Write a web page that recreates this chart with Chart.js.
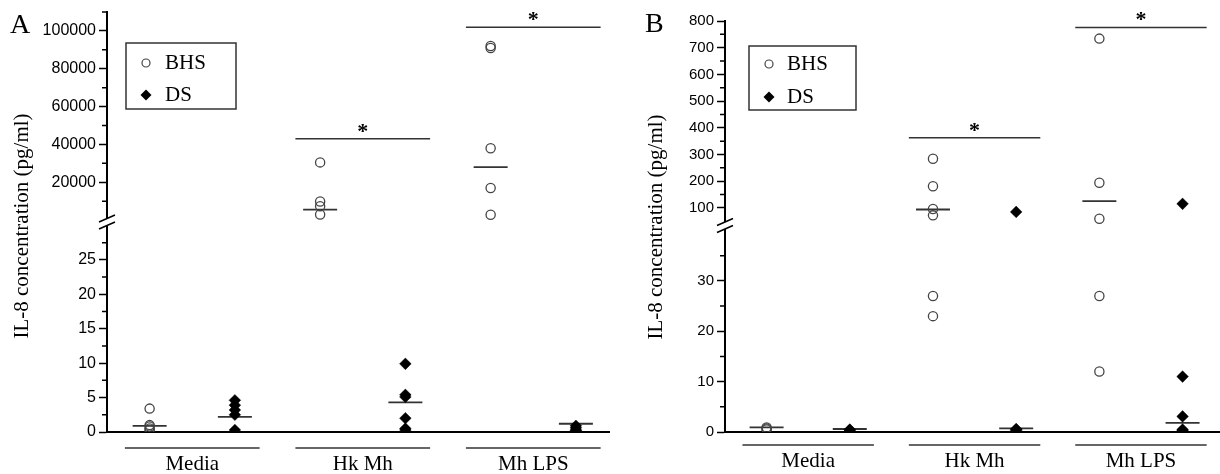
<!DOCTYPE html>
<html>
<head>
<meta charset="utf-8">
<script src="https://cdn.jsdelivr.net/npm/chart.js@4.4.1/dist/chart.umd.min.js"></script>
<style>
  html, body { margin: 0; padding: 0; background: #fff; overflow: hidden; }
  #wrap { position: relative; width: 1220px; height: 474px; }
  .panel { position: absolute; top: 0; width: 610px; height: 474px; }
</style>
</head>
<body>
<div id="wrap">
  <div class="panel" style="left:0"><canvas id="chartA"></canvas></div>
  <div class="panel" style="left:610px"><canvas id="chartB"></canvas></div>
</div>
<script>
const groups = ['Media', 'Hk Mh', 'Mh LPS'];
const seriesNames = ['BHS', 'DS'];
const yTitle = 'IL-8 concentration (pg/ml)';

// Panel A - one inner array per group
const aBHS = [[3.4, 1.0, 0.8, 0.5, 0.3], [30500, 9800, 7300, 3000], [92000, 91000, 38000, 17000, 2800]];
const aDS = [[4.6, 3.9, 3.2, 2.5, 0.3], [9.9, 5.4, 5.1, 2.0, 0.5, 0.3], [0.9, 0.6, 0.3, 0.2]];
const aBHSMedian = [0.9, 5500, 28000];
const aDSMedian = [2.2, 4.3, 1.2];
const aSignif = [null, 43000, 102000];
const aLowTicks = [0, 5, 10, 15, 20, 25];
const aHighTicks = [20000, 40000, 60000, 80000, 100000];

// Panel B
const bBHS = [[0.9, 0.7, 0.5], [284, 181, 96, 72, 27, 23], [734, 194, 59, 27, 12]];
const bDS = [[0.5, 0.4, 0.2], [85, 0.6, 0.5, 0.3], [115, 11, 3.1, 0.5, 0.3]];
const bBHSMedian = [0.9, 94, 125];
const bDSMedian = [0.6, 0.7, 1.8];
const bSignif = [null, 363, 776];
const bLowTicks = [0, 10, 20, 30];
const bHighTicks = [100, 200, 300, 400, 500, 600, 700, 800];

const SERIF = "'Liberation Serif', 'Times New Roman', serif";
const SANS = "'Liberation Sans', Arial, sans-serif";

// values above the cut go on the upper (broken) axis
function pts(vals, s, cut, high) {
  const out = [];
  vals.forEach((arr, g) => arr.forEach(v => {
    if ((v > cut) === high) out.push({ x: g * 2 + 1 + s, y: v });
  }));
  return out;
}

function medPts(bhsMed, dsMed, cut, high) {
  const out = [];
  [bhsMed, dsMed].forEach((arr, s) => arr.forEach((v, g) => {
    if ((v > cut) === high) out.push({ x: g * 2 + 1 + s, y: v });
  }));
  return out;
}

function noPad(s) {
  s.paddingTop = 0; s.paddingBottom = 0; s.paddingLeft = 0; s.paddingRight = 0;
}

function decor(p) {
  return {
    id: 'decor' + p.letter,
    afterDraw(chart) {
      const ctx = chart.ctx;
      const xs = chart.scales.x, hi = chart.scales.yHigh, lo = chart.scales.yLow;
      const left = chart.chartArea.left;
      ctx.save();

      // minor ticks
      ctx.strokeStyle = '#000';
      ctx.lineWidth = 1.5;
      [[hi, p.highStep], [lo, p.lowStep]].forEach(([s, step]) => {
        ctx.beginPath();
        for (let v = s.ticks[0].value - step / 2; v <= s.max + 1e-9; v += step) {
          if (v < s.min) continue;
          const y = s.getPixelForValue(v);
          if (y > s.bottom - 6) continue;
          ctx.moveTo(left - 5, y);
          ctx.lineTo(left, y);
        }
        ctx.stroke();
      });

      // axis break
      const yb = hi.bottom;
      ctx.fillStyle = '#fff';
      ctx.fillRect(left - 3, yb - 3.5, 6, 7);
      ctx.beginPath();
      [-3.5, 3.5].forEach(d => {
        ctx.moveTo(left - 8, yb + d + 3.5);
        ctx.lineTo(left + 8, yb + d - 3.5);
      });
      ctx.stroke();

      // significance bars
      ctx.strokeStyle = '#333';
      ctx.fillStyle = '#000';
      ctx.font = 'bold 22px ' + SERIF;
      ctx.textAlign = 'center';
      ctx.textBaseline = 'alphabetic';
      p.signif.forEach((v, g) => {
        if (v == null) return;
        const c = g * 2 + 1.5, y = hi.getPixelForValue(v);
        ctx.beginPath();
        ctx.moveTo(xs.getPixelForValue(c - 0.79), y);
        ctx.lineTo(xs.getPixelForValue(c + 0.79), y);
        ctx.stroke();
        ctx.fillText('*', xs.getPixelForValue(c), y - 1);
      });

      // group underlines
      groups.forEach((_, g) => {
        const c = g * 2 + 1.5;
        ctx.beginPath();
        ctx.moveTo(xs.getPixelForValue(c - 0.79), p.underY);
        ctx.lineTo(xs.getPixelForValue(c + 0.79), p.underY);
        ctx.stroke();
      });

      // legend
      const L = p.legend;
      ctx.font = '21px ' + SERIF;
      ctx.strokeStyle = '#333';
      ctx.lineWidth = 1.5;
      ctx.strokeRect(L.x, L.y, L.w, L.h);
      ctx.lineWidth = 1.2;
      ctx.strokeStyle = '#444';
      ctx.beginPath();
      ctx.arc(L.symX, L.rows[0], 4, 0, Math.PI * 2);
      ctx.stroke();
      ctx.fillStyle = '#000';
      ctx.beginPath();
      ctx.moveTo(L.symX, L.rows[1] - 5.5);
      ctx.lineTo(L.symX + 5.5, L.rows[1]);
      ctx.lineTo(L.symX, L.rows[1] + 5.5);
      ctx.lineTo(L.symX - 5.5, L.rows[1]);
      ctx.closePath();
      ctx.fill();
      ctx.textAlign = 'left';
      ctx.textBaseline = 'middle';
      seriesNames.forEach((n, i) => ctx.fillText(n, L.textX, L.rows[i]));

      // y title
      ctx.save();
      ctx.translate(p.titleX, p.titleY);
      ctx.rotate(-Math.PI / 2);
      ctx.textAlign = 'center';
      ctx.fillText(yTitle, 0, 0);
      ctx.restore();

      // panel letter
      ctx.font = '28px ' + SERIF;
      ctx.textAlign = 'left';
      ctx.textBaseline = 'alphabetic';
      ctx.fillText(p.letter, p.letterX, p.letterY);

      ctx.restore();
    }
  };
}

function makePanel(id, p) {
  const circle = {
    pointStyle: 'circle', pointRadius: 4.6, pointBorderWidth: 1.3,
    pointBorderColor: '#444', pointBackgroundColor: 'rgba(0,0,0,0)', showLine: false, clip: 0
  };
  const diamond = {
    pointStyle: 'rectRot', pointRadius: 5.8, pointBorderWidth: 0.5,
    pointBorderColor: '#000', pointBackgroundColor: '#000', showLine: false, clip: 0
  };
  const median = {
    pointStyle: 'line', pointRadius: 17, pointBorderWidth: 1.8,
    pointBorderColor: '#333', showLine: false, clip: 0
  };
  const yCommon = {
    type: 'linear', position: 'left', stack: 'y',
    grid: { display: true, drawOnChartArea: false, drawTicks: true, tickLength: 8, tickWidth: 1.5, tickColor: '#000' },
    border: { display: true, color: '#000', width: 2 },
    ticks: { autoSkip: false, color: '#000', padding: 3, font: { family: SANS, size: p.tickSize }, callback: v => String(v) },
    afterFit: s => { s.width = p.yWidth; noPad(s); }
  };

  return new Chart(document.getElementById(id), {
    type: 'scatter',
    data: {
      datasets: [
        Object.assign({ label: seriesNames[0], yAxisID: 'yHigh', data: pts(p.bhs, 0, p.cut, true) }, circle),
        Object.assign({ label: seriesNames[0], yAxisID: 'yLow', data: pts(p.bhs, 0, p.cut, false) }, circle),
        Object.assign({ label: seriesNames[1], yAxisID: 'yHigh', data: pts(p.ds, 1, p.cut, true) }, diamond),
        Object.assign({ label: seriesNames[1], yAxisID: 'yLow', data: pts(p.ds, 1, p.cut, false) }, diamond),
        Object.assign({ label: 'median', yAxisID: 'yHigh', data: medPts(p.bhsMed, p.dsMed, p.cut, true) }, median),
        Object.assign({ label: 'median', yAxisID: 'yLow', data: medPts(p.bhsMed, p.dsMed, p.cut, false) }, median)
      ]
    },
    options: {
      responsive: true,
      maintainAspectRatio: false,
      animation: false,
      events: [],
      layout: { autoPadding: false, padding: { top: p.padTop, left: 0, right: 0, bottom: 0 } },
      plugins: { legend: { display: false }, tooltip: { enabled: false } },
      scales: {
        x: {
          type: 'linear', min: 0.5, max: p.xMax,
          grid: { display: false },
          border: { display: true, color: '#000', width: 2 },
          afterBuildTicks: s => { s.ticks = groups.map((_, g) => ({ value: g * 2 + 1.5 })); },
          afterFit: s => { s.height = 42; noPad(s); },
          ticks: {
            autoSkip: false, maxRotation: 0, padding: p.xPad, color: '#000',
            font: { family: SERIF, size: 21 },
            callback: (v, i) => groups[i]
          }
        },
        yLow: Object.assign({}, yCommon, {
          weight: 1, stackWeight: p.lowWeight, min: 0, max: p.lowMax,
          afterBuildTicks: s => { s.ticks = p.lowTicks.map(v => ({ value: v })); }
        }),
        yHigh: Object.assign({}, yCommon, {
          weight: 2, stackWeight: p.highWeight, min: p.highMin, max: p.highMax,
          afterBuildTicks: s => { s.ticks = p.highTicks.map(v => ({ value: v })); }
        })
      }
    },
    plugins: [decor(p)]
  });
}

makePanel('chartA', {
  letter: 'A', bhs: aBHS, ds: aDS, bhsMed: aBHSMedian, dsMed: aDSMedian, signif: aSignif,
  lowTicks: aLowTicks, highTicks: aHighTicks, cut: 30,
  lowMax: 30.5, highMin: -1000, highMax: 110000, lowWeight: 1, highWeight: 1,
  lowStep: 5, highStep: 20000,
  xMax: 6.4, yWidth: 107, padTop: 12, tickSize: 16, xPad: 12, underY: 448,
  titleX: 22, titleY: 226, letterX: 10, letterY: 33,
  legend: { x: 126, y: 43, w: 110, h: 66, symX: 146, textX: 165, rows: [63, 95] }
});

makePanel('chartB', {
  letter: 'B', bhs: bBHS, ds: bDS, bhsMed: bBHSMedian, dsMed: bDSMedian, signif: bSignif,
  lowTicks: bLowTicks, highTicks: bHighTicks, cut: 40,
  lowMax: 41, highMin: 34, highMax: 800, lowWeight: 206, highWeight: 204,
  lowStep: 10, highStep: 100,
  xMax: 6.45, yWidth: 115, padTop: 21, tickSize: 15, xPad: 9, underY: 445,
  titleX: 46, titleY: 227, letterX: 35, letterY: 32,
  legend: { x: 139, y: 46, w: 107, h: 64, symX: 159, textX: 177, rows: [64, 97] }
});
</script>
</body>
</html>
